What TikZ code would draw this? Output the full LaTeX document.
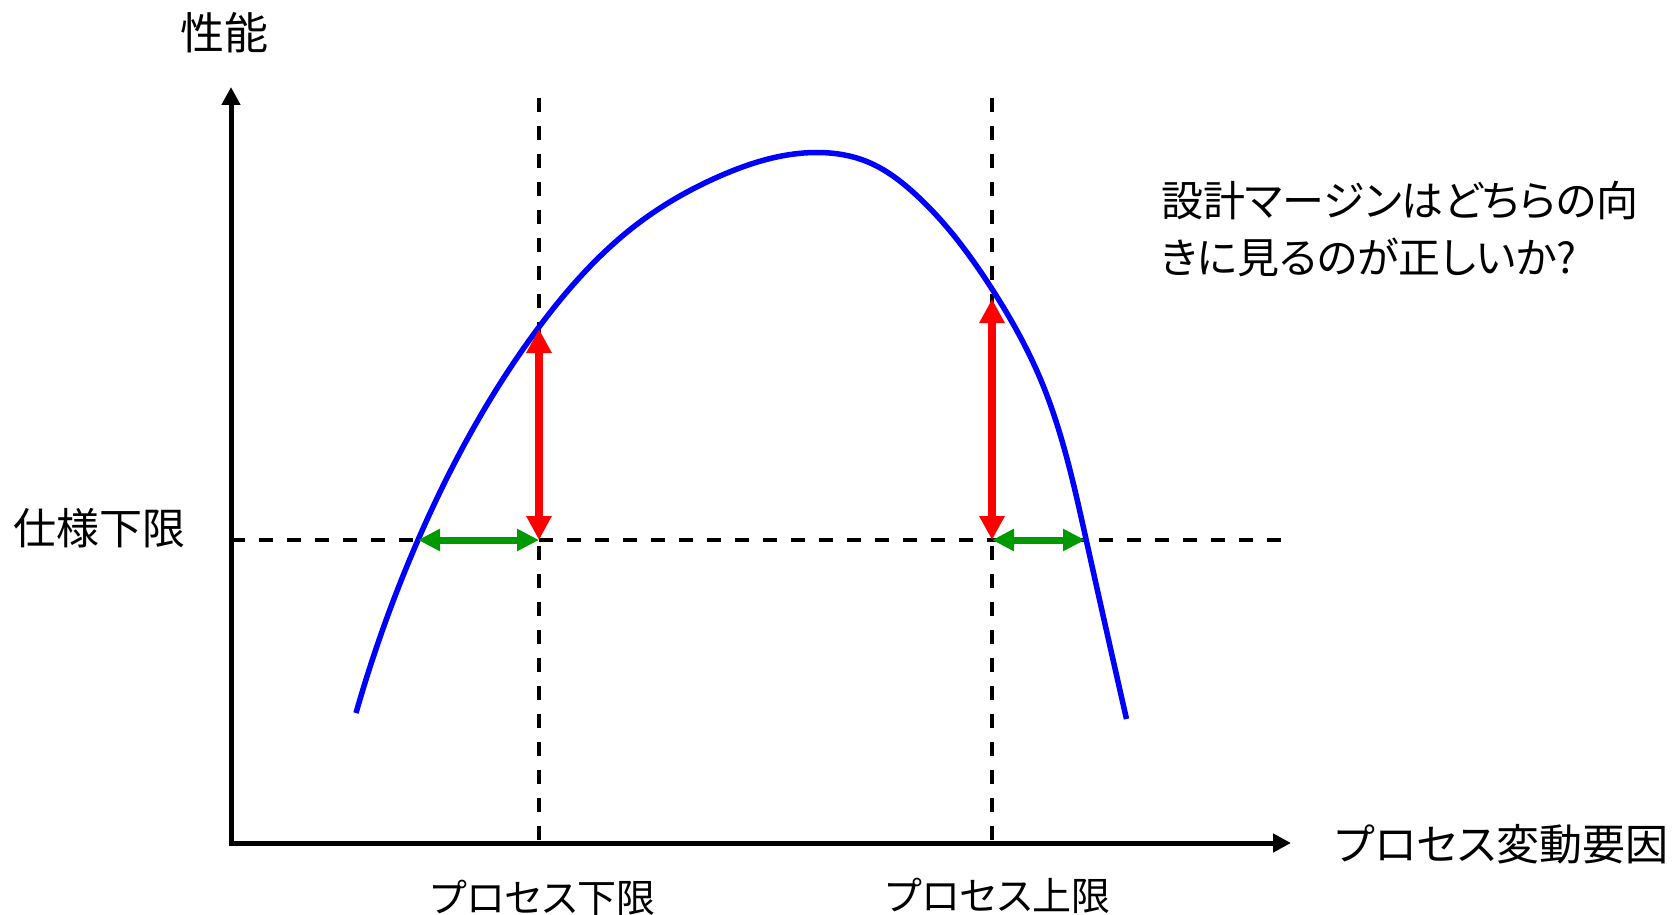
\documentclass[tikz,border=0pt]{standalone}
\usepackage{fontspec}
\setmainfont{Noto Sans CJK JP}[RawFeature=+palt]
\usetikzlibrary{arrows.meta,hobby}
\definecolor{mgreen}{RGB}{0,153,0}
\definecolor{mred}{RGB}{255,0,0}
\definecolor{mblue}{RGB}{0,0,255}
\tikzset{
  axisline/.style={line width=5pt,-{Triangle[length=18pt,width=18pt]}},
  dashline/.style={line width=3.6pt,dash pattern=on 14pt off 14pt},
  curveline/.style={mblue,line width=5.5pt},
  redarrow/.style={mred,line width=8pt,{Triangle[length=24pt,width=24pt]}-{Triangle[length=24pt,width=24pt]}},
  greenarrow/.style={mgreen,line width=7pt,{Triangle[length=22pt,width=21pt]}-{Triangle[length=22pt,width=21pt]}},
  lbl/.style={inner sep=0pt,anchor=base west},
}
\begin{document}
\begin{tikzpicture}[x=1pt,y=-1pt]
\useasboundingbox (0,0) rectangle (1673,915);
% coordinates
\coordinate (O) at (231,843);
\coordinate (Ytop) at (231,87);
\coordinate (Xend) at (1291,843);
\coordinate (Hs) at (231,540);
\coordinate (He) at (1292,540);
\coordinate (V1t) at (539,98);
\coordinate (V1b) at (539,843);
\coordinate (V2t) at (992,98);
\coordinate (V2b) at (992,843);
\coordinate (L1) at (539,540);
\coordinate (L2) at (992,540);
\coordinate (C1) at (418,540);
\coordinate (C2) at (1085,540);
\coordinate (P1) at (539,329);
\coordinate (P2) at (992,299);
% dashed lines
\draw[dashline] (Hs) -- (He);
\draw[dashline] (V1t) -- (V1b);
\draw[dashline] (V2t) -- (V2b);
% axes
\draw[axisline] (O) -- (Ytop);
\draw[axisline] ([xshift=-2.5pt]O) -- (Xend);
% curve
\draw[curveline,use Hobby shortcut] (356,713) .. (418,540) .. (539,327) .. (640,222) .. (720,176) .. (816,152.5) .. (868,162) .. (914,193) .. (992,289) .. (1040,378) .. (1086,539) .. (1126.5,719);
% arrows
\draw[redarrow] (L1) -- (P1);
\draw[redarrow] (L2) -- (P2);
\draw[greenarrow] (C1) -- (L1);
\draw[greenarrow] (L2) -- (C2);
% labels
\node[lbl,font=\fontsize{44pt}{50pt}\selectfont] (perf) at (180,50) {性能};
\node[lbl,font=\fontsize{43pt}{48pt}\selectfont] (spec) at (13,544) {仕様下限};
\node[lbl,font=\fontsize{43pt}{50pt}\selectfont] (xlab) at (1335,860) {プロセス変動要因};
\node[inner sep=0pt,anchor=base,font=\fontsize{39pt}{46pt}\selectfont] (plo) at (543,912) {プロセス下限};
\node[inner sep=0pt,anchor=base,font=\fontsize{39pt}{46pt}\selectfont] (pup) at (998,910) {プロセス上限};
\node[lbl,font=\fontsize{42pt}{48pt}\selectfont] (q1) at (1161,216) {設計マージンはどちらの向};
\node[lbl,font=\fontsize{42pt}{48pt}\selectfont] (q2) at (1160,273) {きに見るのが正しいか?};
\end{tikzpicture}
\end{document}
